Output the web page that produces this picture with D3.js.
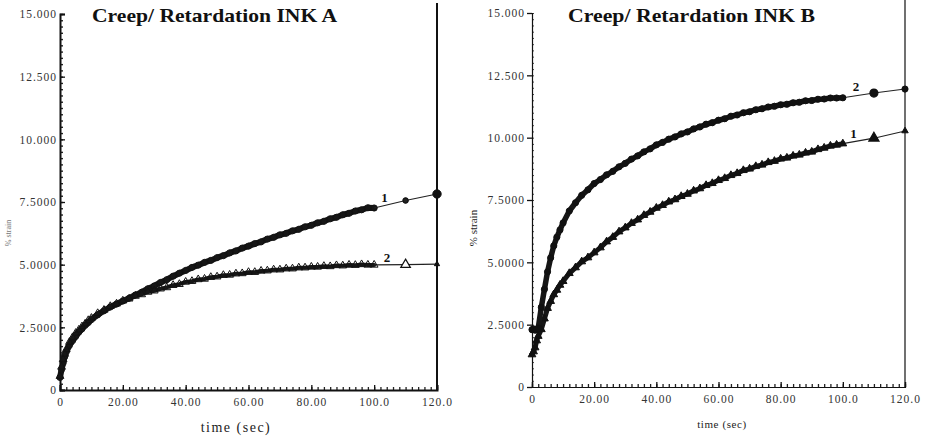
<!DOCTYPE html>
<html>
<head>
<meta charset="utf-8">
<script src="https://cdn.jsdelivr.net/npm/d3@7"></script>
<style>
  html, body { margin: 0; padding: 0; background: #fff; }
  svg { display: block; }
  text { font-family: "Liberation Serif", "Times New Roman", serif; }
</style>
</head>
<body>
<svg id="chart" width="933" height="437"></svg>
<script>
// Sample times (s) shared by every series
const timeSec = [0, 0.5, 1, 1.5, 2, 3, 4, 5, 6, 7, 8, 9, 10,
  12, 14, 16, 18, 20, 22, 24, 26, 28, 30, 32, 34, 36, 38, 40, 42, 44, 46, 48, 50,
  52, 54, 56, 58, 60, 62, 64, 66, 68, 70, 72, 74, 76, 78, 80, 82, 84, 86, 88, 90,
  92, 94, 96, 98, 100, 110, 120];

// INK A, % strain
const inkA1 = [0.50, 0.82, 1.08, 1.33, 1.52, 1.78, 1.97, 2.14, 2.31, 2.44, 2.58, 2.69, 2.81,
  3.00, 3.16, 3.31, 3.43, 3.55, 3.66, 3.79, 3.90, 4.04, 4.15, 4.29, 4.40, 4.54, 4.66, 4.77, 4.89, 4.98, 5.09, 5.17, 5.28,
  5.36, 5.47, 5.55, 5.66, 5.74, 5.84, 5.91, 6.02, 6.09, 6.19, 6.25, 6.35, 6.41, 6.51, 6.57, 6.67, 6.73, 6.83, 6.89, 6.99,
  7.05, 7.14, 7.19, 7.27, 7.26, 7.56, 7.82];
const inkA2 = [0.55, 0.92, 1.22, 1.44, 1.62, 1.91, 2.10, 2.27, 2.40, 2.53, 2.64, 2.78, 2.87,
  3.06, 3.19, 3.34, 3.44, 3.56, 3.64, 3.75, 3.81, 3.91, 3.96, 4.04, 4.09, 4.18, 4.22, 4.31, 4.34, 4.41, 4.43, 4.50, 4.52,
  4.58, 4.59, 4.64, 4.65, 4.70, 4.70, 4.75, 4.76, 4.80, 4.80, 4.84, 4.84, 4.88, 4.88, 4.91, 4.91, 4.94, 4.93, 4.97, 4.96,
  4.99, 4.98, 5.01, 4.99, 4.99, 5.00, 5.02];

// INK B, % strain
const inkB1 = [1.30, 1.42, 1.58, 1.86, 2.04, 2.31, 2.74, 3.16, 3.44, 3.71, 3.89, 4.09, 4.24,
  4.56, 4.79, 5.03, 5.19, 5.39, 5.59, 5.83, 6.01, 6.23, 6.39, 6.57, 6.71, 6.89, 7.02, 7.18, 7.29, 7.43, 7.52, 7.65, 7.74,
  7.87, 7.96, 8.09, 8.17, 8.29, 8.37, 8.49, 8.57, 8.69, 8.75, 8.85, 8.91, 9.01, 9.06, 9.15, 9.19, 9.27, 9.31, 9.39, 9.43,
  9.53, 9.59, 9.67, 9.71, 9.76, 9.98, 10.27];
const inkB2 = [2.30, 2.33, 2.28, 2.32, 2.36, 3.20, 3.92, 4.62, 5.18, 5.66, 6.01, 6.30, 6.58,
  7.06, 7.39, 7.69, 7.91, 8.16, 8.32, 8.51, 8.65, 8.83, 8.97, 9.14, 9.27, 9.43, 9.55, 9.71, 9.81, 9.94, 10.03, 10.15, 10.23,
  10.35, 10.43, 10.54, 10.60, 10.70, 10.76, 10.86, 10.91, 11.00, 11.04, 11.12, 11.16, 11.23, 11.26, 11.32, 11.34, 11.40, 11.42, 11.48, 11.49,
  11.54, 11.55, 11.59, 11.59, 11.60, 11.79, 11.95];

const xTickValues = [0, 20, 40, 60, 80, 100, 120];
const xTickLabels = ["0", "20.00", "40.00", "60.00", "80.00", "100.0", "120.0"];
const yTickValues = [0, 2.5, 5, 7.5, 10, 12.5, 15];
const yTickLabels = ["0", "2.5000", "5.0000", "7.5000", "10.000", "12.500", "15.000"];

const titles = ["Creep/ Retardation INK A", "Creep/ Retardation INK B"];
const xTitle = "time (sec)";
const yTitle = "% strain";

const svg = d3.select("#chart");
const denseEnd = timeSec.indexOf(100);

function panel(cfg) {
  const g = svg.append("g");
  const x = d3.scaleLinear().domain([0, 120]).range([cfg.x0, cfg.x1]);
  const y = d3.scaleLinear().domain([0, 15]).range([cfg.y0, cfg.y1]);

  // minor ticks
  g.append("g").attr("transform", `translate(0,${cfg.y0})`)
    .call(d3.axisBottom(x).tickValues(d3.range(0, 120.1, 2)).tickSize(-3).tickFormat(""))
    .call(a => a.select(".domain").remove())
    .call(a => a.selectAll("line").attr("stroke", "#222").attr("stroke-width", 1.3));
  g.append("g").attr("transform", `translate(${cfg.x0},0)`)
    .call(d3.axisLeft(y).tickValues(d3.range(0, 15.01, 0.25)).tickSize(-cfg.yMinor).tickFormat(""))
    .call(a => a.select(".domain").remove())
    .call(a => a.selectAll("line").attr("stroke", "#222").attr("stroke-width", cfg.axisW * 0.7));

  // major axes
  const xa = g.append("g").attr("transform", `translate(0,${cfg.y0})`)
    .call(d3.axisBottom(x).tickValues(xTickValues).tickSize(-5).tickPadding(8)
      .tickFormat((d, i) => xTickLabels[i]));
  const ya = g.append("g").attr("transform", `translate(${cfg.x0},0)`)
    .call(d3.axisLeft(y).tickValues(yTickValues).tickSize(cfg.yMajor).tickPadding(cfg.yPad)
      .tickFormat((d, i) => yTickLabels[i]));
  [xa, ya].forEach(a => {
    a.select(".domain").attr("stroke", "#111").attr("stroke-width", cfg.axisW);
    a.selectAll("line").attr("stroke", "#111").attr("stroke-width", 1.3);
    a.selectAll("text").attr("fill", "#333").style("font-size", "11.5px")
      .style("letter-spacing", "1px");
  });

  // right frame line
  g.append("line").attr("x1", cfg.x1).attr("x2", cfg.x1)
    .attr("y1", cfg.y0).attr("y2", cfg.frameTop)
    .attr("stroke", "#111").attr("stroke-width", cfg.frameW);

  // series
  const line = d3.line().x(d => x(d[0])).y(d => y(d[1]));
  cfg.series.forEach(s => {
    const pts = timeSec.map((t, i) => [t, s.values[i]]);
    const dense = pts.slice(0, denseEnd + 1);
    const tail = pts.slice(denseEnd);
    g.append("path").attr("d", line(dense)).attr("fill", "none")
      .attr("stroke", "#161616").attr("stroke-width", s.band)
      .attr("stroke-linejoin", "round").attr("stroke-linecap", "round");
    g.append("path").attr("d", line(tail)).attr("fill", "none")
      .attr("stroke", "#222").attr("stroke-width", 1.1);
    const sym = d3.symbol().type(s.shape === "tri" ? d3.symbolTriangle : d3.symbolCircle);
    g.selectAll(null).data(dense).join("path")
      .attr("transform", d => `translate(${x(d[0])},${y(d[1])})`)
      .attr("d", sym.size(s.msize)())
      .attr("fill", s.fill).attr("stroke", "#111").attr("stroke-width", 1);
    // last two samples
    g.append("path")
      .attr("transform", `translate(${x(tail[1][0])},${y(tail[1][1])})`)
      .attr("d", sym.size(s.midSize)())
      .attr("fill", s.midFill).attr("stroke", "#111").attr("stroke-width", 1.2);
    g.append("path")
      .attr("transform", `translate(${x(tail[2][0])},${y(tail[2][1])})`)
      .attr("d", sym.size(s.endSize)())
      .attr("fill", "#111").attr("stroke", "#111").attr("stroke-width", 1);
    g.append("text").attr("x", s.lx).attr("y", s.ly).attr("text-anchor", "middle")
      .style("font-size", "13px").style("font-weight", "bold").attr("fill", "#111")
      .text(s.label);
  });

  // titles
  g.append("text").attr("x", cfg.titleX).attr("y", 22)
    .attr("textLength", cfg.titleW).attr("lengthAdjust", "spacingAndGlyphs")
    .style("font-size", "19px").style("font-weight", "bold").attr("fill", "#111")
    .text(cfg.title);
  g.append("text").attr("x", cfg.xtX).attr("y", cfg.xtY).attr("text-anchor", "middle")
    .style("font-size", cfg.xtSize + "px").style("letter-spacing", cfg.xtSpace + "px")
    .attr("fill", "#222").text(xTitle);
  g.append("text").attr("transform", `translate(${cfg.ytX},${cfg.ytY}) rotate(-90)`)
    .attr("text-anchor", "middle").style("font-size", cfg.ytSize + "px")
    .attr("fill", cfg.ytColor).text(yTitle);
}

panel({
  x0: 60, x1: 437, y0: 390, y1: 14, frameTop: 3, frameW: 2, axisW: 2,
  yMajor: -5, yMinor: 3, yPad: 3,
  title: titles[0], titleX: 92, titleW: 245,
  xtX: 236, xtY: 432, xtSize: 14, xtSpace: 1.5,
  ytX: 11, ytY: 233, ytSize: 8, ytColor: "#777",
  series: [
    { values: inkA1, shape: "circle", fill: "none", band: 6, msize: 30,
      midSize: 22, midFill: "#222", endSize: 55, label: "1", lx: 384.5, ly: 202 },
    { values: inkA2, shape: "tri", fill: "none", band: 4, msize: 26,
      midSize: 40, midFill: "#fff", endSize: 12, label: "2", lx: 387, ly: 262 }
  ]
});

panel({
  x0: 532, x1: 905, y0: 387, y1: 13, frameTop: 0, frameW: 1.2, axisW: 1.2,
  yMajor: 5, yMinor: 2, yPad: 2,
  title: titles[1], titleX: 568, titleW: 247,
  xtX: 722, xtY: 428, xtSize: 11, xtSpace: 0.6,
  ytX: 477, ytY: 228, ytSize: 11, ytColor: "#222",
  series: [
    { values: inkB1, shape: "tri", fill: "#111", band: 5, msize: 26,
      midSize: 45, midFill: "#111", endSize: 18, label: "1", lx: 853.5, ly: 138 },
    { values: inkB2, shape: "circle", fill: "#111", band: 5.5, msize: 30,
      midSize: 50, midFill: "#111", endSize: 30, label: "2", lx: 856, ly: 91 }
  ]
});
</script>
</body>
</html>
